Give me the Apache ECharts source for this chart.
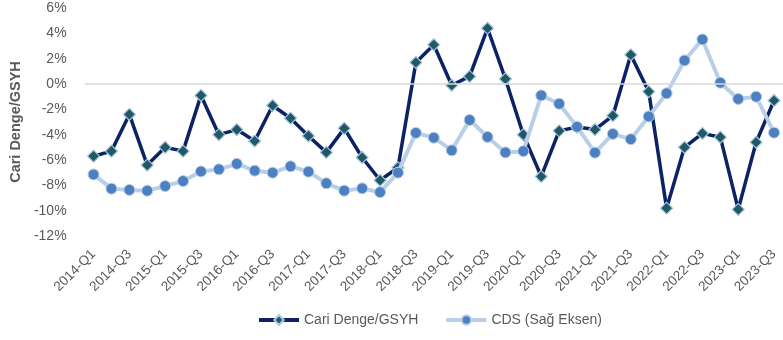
<!DOCTYPE html>
<html>
<head>
<meta charset="utf-8">
<script src="https://cdn.jsdelivr.net/npm/echarts@6/dist/echarts.min.js"></script>
<style>
  html, body { margin: 0; padding: 0; background: #fff; }
  #chart { width: 783px; height: 340px; }
</style>
</head>
<body>
<div id="chart"></div>
<script>
// Quarterly categories 2014-Q1 .. 2023-Q3
const quarters = [
  '2014-Q1','2014-Q2','2014-Q3','2014-Q4',
  '2015-Q1','2015-Q2','2015-Q3','2015-Q4',
  '2016-Q1','2016-Q2','2016-Q3','2016-Q4',
  '2017-Q1','2017-Q2','2017-Q3','2017-Q4',
  '2018-Q1','2018-Q2','2018-Q3','2018-Q4',
  '2019-Q1','2019-Q2','2019-Q3','2019-Q4',
  '2020-Q1','2020-Q2','2020-Q3','2020-Q4',
  '2021-Q1','2021-Q2','2021-Q3','2021-Q4',
  '2022-Q1','2022-Q2','2022-Q3','2022-Q4',
  '2023-Q1','2023-Q2','2023-Q3'
];

// Current account balance / GDP, percent (left axis)
const cariDenge = [
  -5.7, -5.3, -2.4, -6.4,
  -5.0, -5.3, -0.9, -4.0,
  -3.6, -4.5, -1.7, -2.7,
  -4.1, -5.4, -3.5, -5.8,
  -7.6, -6.6, 1.7, 3.1,
  -0.1, 0.6, 4.4, 0.4,
  -4.0, -7.3, -3.7, -3.4,
  -3.6, -2.5, 2.3, -0.6,
  -9.8, -5.0, -3.9, -4.2,
  -9.9, -4.6, -1.3
];

// 5Y CDS, basis points (right axis, hidden)
const cds = [
  243, 187, 182, 179,
  197, 217, 255, 263,
  285, 258, 250, 275,
  254, 208, 179, 188,
  173, 250, 407, 388,
  338, 458, 391, 330,
  335, 555, 522, 431,
  329, 403, 382, 472,
  563, 693, 776, 605,
  541, 550, 408
];

const leftTicks = { min: -12, max: 6, interval: 2 };
const rightTicks = { min: 0, max: 900, interval: 100 };

const textColor = '#595959';
const fontFamily = '"Liberation Sans", "Noto Sans", sans-serif';

const navy = '#0B2365';
const lightBlue = '#B9CFE8';

const chart = echarts.init(document.getElementById('chart'), null, { renderer: 'canvas' });

chart.setOption({
  animation: false,
  textStyle: { fontFamily: fontFamily },
  grid: { left: 80, right: -4, top: 8, bottom: 104 },
  legend: {
    bottom: 8,
    left: 252,
    itemWidth: 40,
    itemHeight: 12,
    itemGap: 26,
    textStyle: { color: textColor, fontSize: 14, fontFamily: fontFamily },
    data: [
      { name: 'Cari Denge/GSYH', lineStyle: { width: 4, color: navy } },
      { name: 'CDS (Sağ Eksen)', lineStyle: { width: 4, color: lightBlue } }
    ]
  },
  xAxis: {
    type: 'category',
    data: quarters,
    boundaryGap: true,
    axisLine: { show: false, onZero: false },
    axisTick: { show: false },
    splitLine: { show: false },
    axisLabel: {
      interval: 1,
      rotate: 45,
      color: textColor,
      fontSize: 13.5,
      margin: 16,
      fontFamily: fontFamily
    }
  },
  yAxis: [
    {
      type: 'value',
      min: leftTicks.min,
      max: leftTicks.max,
      interval: leftTicks.interval,
      name: 'Cari Denge/GSYH',
      nameLocation: 'middle',
      nameGap: 59,
      nameRotate: 90,
      nameTextStyle: { color: textColor, fontSize: 14.5, fontWeight: 'bold', fontFamily: fontFamily },
      axisLine: { show: false },
      axisTick: { show: false },
      splitLine: { show: false },
      axisLabel: {
        color: textColor,
        fontSize: 14,
        margin: 18,
        fontFamily: fontFamily,
        formatter: v => v + '%'
      }
    },
    {
      type: 'value',
      show: false,
      min: rightTicks.min,
      max: rightTicks.max,
      interval: rightTicks.interval,
      splitLine: { show: false }
    }
  ],
  series: [
    {
      name: 'Cari Denge/GSYH',
      type: 'line',
      yAxisIndex: 0,
      data: cariDenge,
      symbol: 'diamond',
      symbolSize: 12,
      showAllSymbol: true,
      lineStyle: { color: navy, width: 3.5 },
      itemStyle: { color: '#1F5A64', borderColor: '#A9C4E4', borderWidth: 1.2 },
      markLine: {
        silent: true,
        symbol: 'none',
        label: { show: false },
        lineStyle: { color: '#D9D9D9', width: 1.5, type: 'solid' },
        data: [{ yAxis: 0 }]
      },
      z: 3
    },
    {
      name: 'CDS (Sağ Eksen)',
      type: 'line',
      yAxisIndex: 1,
      data: cds,
      symbol: 'circle',
      symbolSize: 11,
      showAllSymbol: true,
      lineStyle: { color: lightBlue, width: 4 },
      itemStyle: { color: '#4C80C0', borderColor: lightBlue, borderWidth: 1 },
      z: 4
    }
  ]
});
</script>
</body>
</html>
